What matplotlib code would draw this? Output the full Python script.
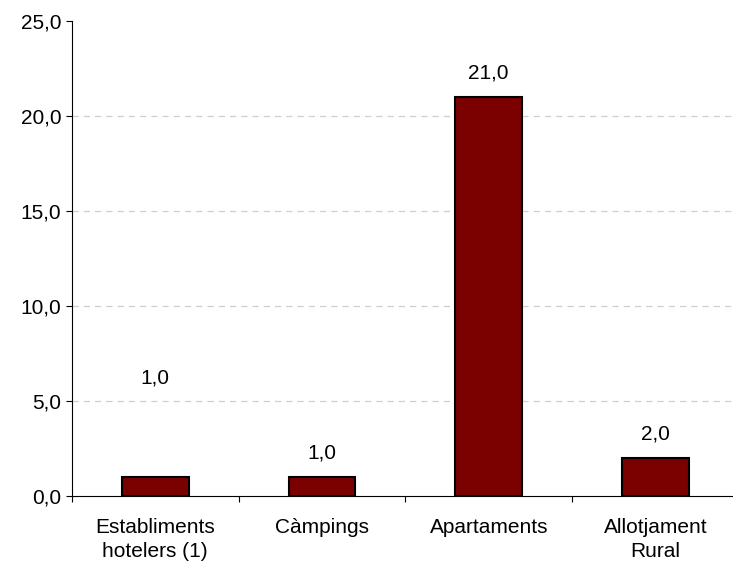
import numpy as np
import matplotlib
matplotlib.use("Agg")
import matplotlib.pyplot as plt

categories = ["Establiments\nhotelers (1)", "Càmpings", "Apartaments", "Allotjament\nRural"]
values = [1.0, 1.0, 21.0, 2.0]
yticks = [0, 5, 10, 15, 20, 25]

plt.rcParams['font.family'] = ['Liberation Sans', 'DejaVu Sans']

fig = plt.figure(figsize=(7.33, 5.67), dpi=100)
ax = fig.add_axes([0.098, 0.125, 0.91, 0.838])

x = np.arange(len(categories))
ax.bar(x, values, width=0.40, color='#7b0000', edgecolor='black', linewidth=1.5, zorder=3)

# label positions as in the original (first one sits higher)
label_y = [v + 1.25 for v in values]
label_y[0] = values[0] + 5.2
for xi, v, ly in zip(x, values, label_y):
    ax.text(xi, ly, f"{v:.1f}".replace('.', ','), ha='center', va='center', fontsize=15)

ax.set_xlim(-0.5, len(categories) - 0.5)
ax.set_ylim(0, 25)
ax.set_yticks(yticks)
ax.set_yticklabels([f"{t:.1f}".replace('.', ',') for t in yticks], fontsize=15)
for t in yticks[1:-1]:
    ax.axhline(t, color='#cfcfcf', linestyle=(0, (5, 4)), linewidth=0.9, zorder=1)

ax.set_xticks(np.arange(-0.5, len(categories) - 0.5, 1.0))
ax.set_xticklabels([])
ax.set_xticks(x, minor=True)
ax.set_xticklabels(categories, minor=True, fontsize=15, linespacing=1.3)
ax.tick_params(axis='x', which='minor', length=0, pad=16)
ax.tick_params(axis='x', which='major', length=4, direction='out')
ax.tick_params(axis='y', length=4, direction='out')

for s in ['top', 'right']:
    ax.spines[s].set_visible(False)

fig.savefig("out.png", dpi=100)
